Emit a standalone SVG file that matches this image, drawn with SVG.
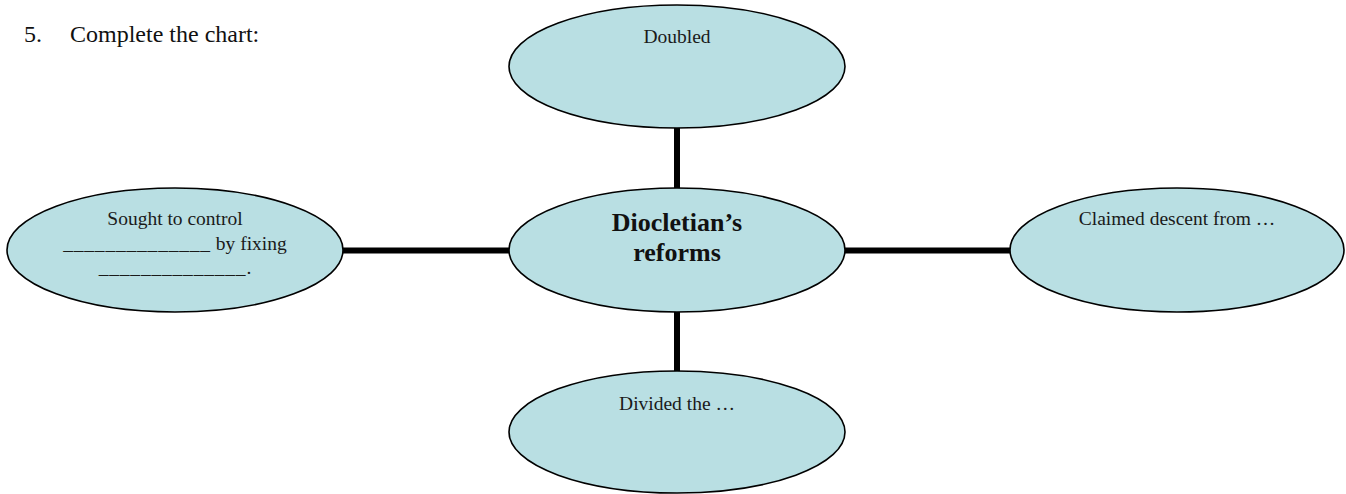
<svg xmlns="http://www.w3.org/2000/svg" width="1346" height="494" viewBox="0 0 1346 494">
<style>
.node ellipse{fill:#B9DFE3;stroke:#000;stroke-width:1.6}
.lbl{font-family:"Liberation Serif","Times New Roman",serif;font-size:19.5px;fill:#1a1a1a;text-anchor:middle}
.title{font-family:"Liberation Serif","Times New Roman",serif;font-size:24px;fill:#111}
.main{font-family:"Liberation Serif","Times New Roman",serif;font-size:26px;font-weight:bold;fill:#111;text-anchor:middle}
.us{letter-spacing:0.8px}
.conn line{stroke:#000;stroke-width:6}
</style>
<rect width="1346" height="494" fill="#fff"/>
<text class="title" x="24" y="42">5.</text>
<text class="title" x="70" y="42">Complete the chart:</text>
<g id="connectors" class="conn">
<line x1="677" y1="127" x2="677" y2="189"/>
<line x1="677" y1="311" x2="677" y2="373"/>
<line x1="342" y1="250.5" x2="511" y2="250.5"/>
<line x1="843" y1="250.5" x2="1012" y2="250.5"/>
</g>
<g id="top" class="node">
<ellipse cx="677" cy="66.5" rx="168" ry="61.5"/>
<text class="lbl" x="677" y="43">Doubled</text>
</g>
<g id="center" class="node">
<ellipse cx="677" cy="250" rx="168" ry="62"/>
<text class="main" x="677" y="231">Diocletian’s</text>
<text class="main" x="677" y="261">reforms</text>
</g>
<g id="left" class="node">
<ellipse cx="175" cy="250" rx="168" ry="62"/>
<text class="lbl" x="175" y="225">Sought to control</text>
<text class="lbl" x="175" y="250"><tspan class="us">______________</tspan> by fixing</text>
<text class="lbl" x="175" y="274"><tspan class="us">______________</tspan>.</text>
</g>
<g id="right" class="node">
<ellipse cx="1177" cy="250" rx="167" ry="62"/>
<text class="lbl" x="1177" y="225">Claimed descent from …</text>
</g>
<g id="bottom" class="node">
<ellipse cx="677" cy="432" rx="168" ry="61"/>
<text class="lbl" x="677" y="410">Divided the …</text>
</g>
</svg>
